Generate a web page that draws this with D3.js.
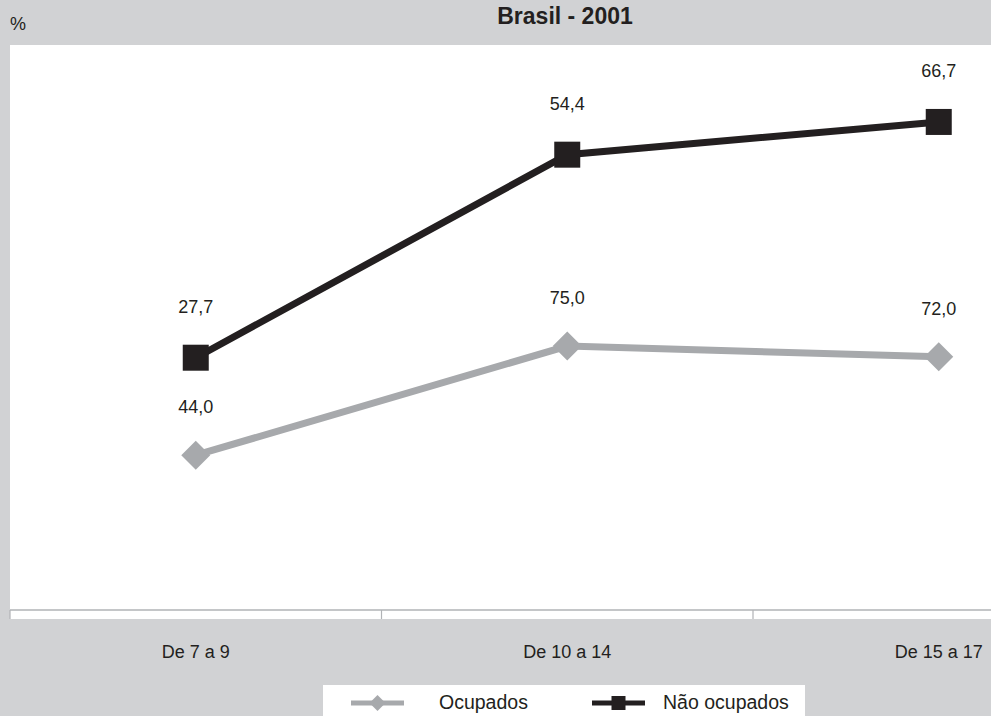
<!DOCTYPE html>
<html><head><meta charset="utf-8">
<script src="https://cdn.jsdelivr.net/npm/d3@7"></script>
<style>
html,body{margin:0;padding:0;background:#d1d2d4;overflow:hidden}
text{font-family:"Liberation Sans",Arial,Helvetica,sans-serif;fill:#231f20}
</style></head>
<body>
<svg id="chart" width="991" height="716"></svg>
<script>
const categories = ["De 7 a 9", "De 10 a 14", "De 15 a 17"];
const seriesNames = ["Ocupados", "Não ocupados"];
const ocupados = [44.0, 75.0, 72.0];
const naoOcupados = [27.7, 54.4, 66.7];
const titleText = "Brasil - 2001";
const yUnit = "%";

const W = 991, H = 716;
const svg = d3.select("#chart");
const dark = "#231f20", grey = "#a7a9ac";

svg.append("rect").attr("width", W).attr("height", H).attr("fill", "#d1d2d4");

const x = d3.scaleBand().domain(categories).range([10, 1124.5]).padding(0);
const y = d3.scaleLinear().domain([0, 160]).range([610, 47]);

// plot area
svg.append("rect").attr("x", 10).attr("y", 45).attr("width", 1200).attr("height", 574).attr("fill", "#fff");

// axis
const axisG = svg.append("g").attr("transform", `translate(0,${y(0)})`);
axisG.append("line").attr("x1", 10).attr("x2", 1200).attr("y1", 0).attr("y2", 0)
  .attr("stroke", "#b1b3b6").attr("stroke-width", 1.5);
const bounds = categories.map(c => x(c)).concat([x(categories[categories.length-1]) + x.bandwidth()]);
axisG.selectAll("line.tick").data(bounds).join("line").attr("class","tick")
  .attr("x1", d => d).attr("x2", d => d).attr("y1", 0).attr("y2", 9)
  .attr("stroke", "#b1b3b6").attr("stroke-width", 1.2);

svg.selectAll("text.cat").data(categories).join("text").attr("class","cat")
  .attr("x", d => x(d) + x.bandwidth()/2).attr("y", 658)
  .attr("text-anchor","middle").attr("font-size", 18).text(d => d);

// title & unit
svg.append("text").attr("x", 565).attr("y", 24).attr("text-anchor","middle")
  .attr("font-size", 23).attr("font-weight","bold").text(titleText);
svg.append("text").attr("x", 10).attr("y", 30).attr("font-size", 18).attr("fill","#414042").text(yUnit);

// stacked values
const stack1 = ocupados.map((v,i) => ({cat: categories[i], v: v, top: v}));
const stack2 = naoOcupados.map((v,i) => ({cat: categories[i], v: v, top: ocupados[i] + v}));

const line = d3.line().x(d => x(d.cat) + x.bandwidth()/2).y(d => y(d.top));

svg.append("path").datum(stack1).attr("d", line).attr("fill","none")
  .attr("stroke", grey).attr("stroke-width", 7);
svg.append("path").datum(stack2).attr("d", line).attr("fill","none")
  .attr("stroke", dark).attr("stroke-width", 7);

const diamond = (cx, cy, r) => `M${cx},${cy-r}L${cx+r},${cy}L${cx},${cy+r}L${cx-r},${cy}Z`;
svg.selectAll("path.dia").data(stack1).join("path").attr("class","dia")
  .attr("d", d => diamond(x(d.cat)+x.bandwidth()/2, y(d.top), 14.5)).attr("fill", grey);
svg.selectAll("rect.sq").data(stack2).join("rect").attr("class","sq")
  .attr("x", d => x(d.cat)+x.bandwidth()/2 - 13).attr("y", d => y(d.top) - 13)
  .attr("width", 26).attr("height", 26).attr("fill", dark);

const fmt = v => v.toFixed(1).replace(".", ",");
svg.selectAll("text.l1").data(stack1).join("text").attr("class","l1")
  .attr("x", d => x(d.cat)+x.bandwidth()/2).attr("y", d => y(d.top) - 42)
  .attr("text-anchor","middle").attr("font-size", 18).text(d => fmt(d.v));
svg.selectAll("text.l2").data(stack2).join("text").attr("class","l2")
  .attr("x", d => x(d.cat)+x.bandwidth()/2).attr("y", d => y(d.top) - 45)
  .attr("text-anchor","middle").attr("font-size", 18).text(d => fmt(d.v));

// legend
const lg = svg.append("g");
lg.append("rect").attr("x", 323).attr("y", 685).attr("width", 482).attr("height", 40).attr("fill", "#fff");
const legItems = [
  {name: seriesNames[0], color: grey, shape: "d", lx: 351, tx: 439},
  {name: seriesNames[1], color: dark, shape: "s", lx: 592, tx: 663}
];
legItems.forEach(it => {
  lg.append("line").attr("x1", it.lx).attr("x2", it.lx + 53).attr("y1", 703).attr("y2", 703)
    .attr("stroke", it.color).attr("stroke-width", 5);
  if (it.shape === "d") lg.append("path").attr("d", diamond(it.lx + 26.5, 703, 8)).attr("fill", it.color);
  else lg.append("rect").attr("x", it.lx + 19.5).attr("y", 696).attr("width", 14).attr("height", 14).attr("fill", it.color);
  lg.append("text").attr("x", it.tx).attr("y", 709).attr("font-size", 19.5).text(it.name);
});
</script>
</body></html>
